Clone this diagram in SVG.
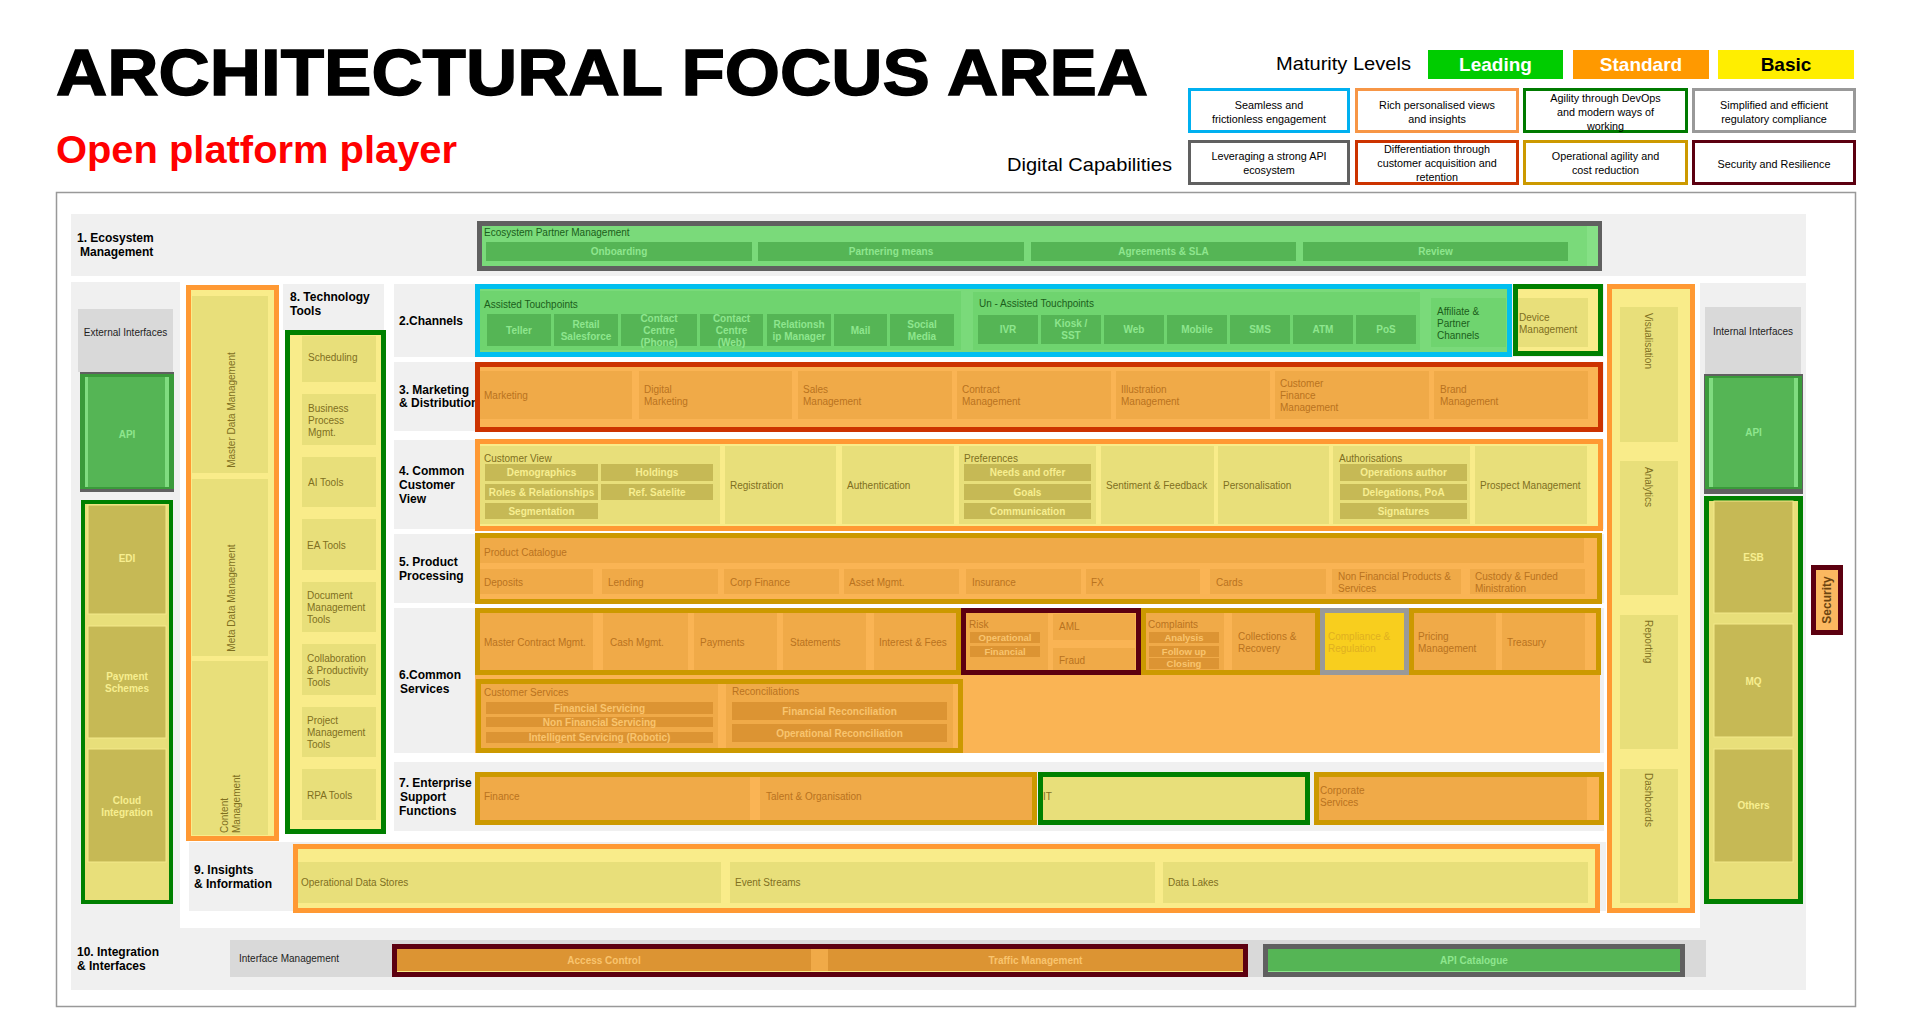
<svg xmlns="http://www.w3.org/2000/svg" width="1911" height="1015" viewBox="0 0 1911 1015">
<style>
text{font-family:"Liberation Sans",Arial,sans-serif}
.bg{fill:#F0F0F0}
.hd{fill:#D9D9D9}
.lb{font-size:12px;font-weight:bold;fill:#000}
.s{font-size:10px}
.c{text-anchor:middle}
.b{font-weight:bold}
.k{fill:#1E1E1E}
.gT{fill:#1B5E1B}
.yT{fill:#7F6F1F}
.oT{fill:#B9731F}
.gB{fill:#55B555}
.gBT{fill:#8EE68E}
.yB{fill:#C6B955}
.yBT{fill:#F7EE90}
.oB{fill:#DC9433}
.oBT{fill:#F9C46E}
.gC{fill:#7ADA7A}
.gP{fill:#6FD46F}
.yC{fill:#F9EC8A}
.yP{fill:#E8DF7A}
.oC{fill:#FAB454}
.oP{fill:#F0AA48}
.bOr{stroke:#FF9933;stroke-width:5}
.bRd{stroke:#CC3300;stroke-width:5}
.bGd{stroke:#CC9900;stroke-width:5}
.bMr{stroke:#5C0010;stroke-width:5}
.bGn{stroke:#008000;stroke-width:5}
.bCy{stroke:#00BFEF;stroke-width:5}
.bDg{stroke:#606060;stroke-width:5}
.bGy{stroke:#999999;stroke-width:5}
.lg{fill:#fff;stroke-width:3}
.lt{font-size:10.8px;fill:#000;text-anchor:middle}
.yBx{fill:#C6B955;stroke:#F3E98A;stroke-width:1}
</style>

<rect width="1911" height="1015" fill="#fff"/>

<!-- heading -->
<g id="title">
  <text x="56" y="95" font-size="64" font-weight="bold" fill="#000" stroke="#000" stroke-width="1.4" textLength="1092" lengthAdjust="spacingAndGlyphs">ARCHITECTURAL FOCUS AREA</text>
  <text x="56" y="163" font-size="39" font-weight="bold" fill="#FF0000" textLength="401" lengthAdjust="spacingAndGlyphs">Open platform player</text>
</g>

<!-- maturity legend -->
<g id="maturity-legend">
  <text x="1276" y="70" font-size="19" fill="#000" textLength="135" lengthAdjust="spacingAndGlyphs">Maturity Levels</text>
  <rect x="1428" y="50" width="135" height="29" fill="#00CC00"/>
  <text x="1495.5" y="71" font-size="19" font-weight="bold" fill="#fff" text-anchor="middle">Leading</text>
  <rect x="1573" y="50" width="136" height="29" fill="#FF9900"/>
  <text x="1641" y="71" font-size="19" font-weight="bold" fill="#fff" text-anchor="middle">Standard</text>
  <rect x="1718" y="50" width="136" height="29" fill="#FFEE00"/>
  <text x="1786" y="71" font-size="19" font-weight="bold" fill="#000" text-anchor="middle">Basic</text>
</g>

<!-- digital capabilities legend -->
<g id="capabilities-legend">
  <text x="1007" y="171" font-size="19" fill="#000" textLength="165" lengthAdjust="spacingAndGlyphs">Digital Capabilities</text>
  <rect class="lg" x="1189.5" y="89.5" width="159" height="42" stroke="#00B0F0"/>
  <text class="lt" x="1269" y="109">Seamless and</text>
  <text class="lt" x="1269" y="123">frictionless engagement</text>
  <rect class="lg" x="1356.5" y="89.5" width="161" height="42" stroke="#F79646"/>
  <text class="lt" x="1437" y="109">Rich personalised views</text>
  <text class="lt" x="1437" y="123">and insights</text>
  <rect class="lg" x="1524.5" y="89.5" width="162" height="42" stroke="#007A00"/>
  <text class="lt" x="1605.5" y="102">Agility through DevOps</text>
  <text class="lt" x="1605.5" y="116">and modern ways of</text>
  <text class="lt" x="1605.5" y="129.5">working</text>
  <rect class="lg" x="1693.5" y="89.5" width="161" height="42" stroke="#999999"/>
  <text class="lt" x="1774" y="109">Simplified and efficient</text>
  <text class="lt" x="1774" y="123">regulatory compliance</text>
  <rect class="lg" x="1189.5" y="141.5" width="159" height="42" stroke="#606060"/>
  <text class="lt" x="1269" y="160">Leveraging a strong API</text>
  <text class="lt" x="1269" y="174">ecosystem</text>
  <rect class="lg" x="1356.5" y="141.5" width="161" height="42" stroke="#CC3300"/>
  <text class="lt" x="1437" y="153">Differentiation through</text>
  <text class="lt" x="1437" y="167">customer acquisition and</text>
  <text class="lt" x="1437" y="180.5">retention</text>
  <rect class="lg" x="1524.5" y="141.5" width="162" height="42" stroke="#CC9900"/>
  <text class="lt" x="1605.5" y="160">Operational agility and</text>
  <text class="lt" x="1605.5" y="174">cost reduction</text>
  <rect class="lg" x="1693.5" y="141.5" width="161" height="42" stroke="#5C0010"/>
  <text class="lt" x="1774" y="168">Security and Resilience</text>
</g>

<!-- outer frame and background bands -->
<g id="frame">
  <rect x="56.5" y="192.5" width="1799" height="814" fill="#fff" stroke="#999" stroke-width="1.5"/>
  <rect class="bg" x="71" y="214" width="1735" height="62"/>
  <rect class="bg" x="71" y="282" width="109" height="708"/>
  <rect class="bg" x="1700" y="283" width="106" height="707"/>
  <rect class="bg" x="71" y="928" width="1735" height="62"/>
  <rect class="bg" x="283" y="284" width="101" height="46"/>
  <rect class="bg" x="394" y="284" width="1210" height="73"/>
  <rect class="bg" x="394" y="362" width="1210" height="69"/>
  <rect class="bg" x="394" y="440" width="1210" height="89"/>
  <rect class="bg" x="394" y="534" width="1210" height="69"/>
  <rect class="bg" x="394" y="608" width="1210" height="145"/>
  <rect class="bg" x="394" y="762" width="1210" height="69"/>
  <rect class="bg" x="189" y="842" width="1417" height="69"/>
</g>

<!-- 1. Ecosystem Management -->
<g id="ecosystem">
  <text class="lb" x="77" y="242">1. Ecosystem</text>
  <text class="lb" x="80" y="256">Management</text>
  <rect class="gC bDg" x="479.5" y="223.5" width="1120" height="45"/>
  <rect x="1587" y="226" width="11" height="40" fill="#86E086"/>
  <text class="s gT" x="484" y="236">Ecosystem Partner Management</text>
  <rect class="gB" x="486" y="242" width="266" height="19"/>
  <rect class="gB" x="758" y="242" width="266" height="19"/>
  <rect class="gB" x="1031" y="242" width="265" height="19"/>
  <rect class="gB" x="1303" y="242" width="265" height="19"/>
  <g class="s b gBT c">
    <text x="619" y="255">Onboarding</text>
    <text x="891" y="255">Partnering means</text>
    <text x="1163.5" y="255">Agreements &amp; SLA</text>
    <text x="1435.5" y="255">Review</text>
  </g>
</g>

<!-- External interfaces column -->
<g id="external-interfaces">
  <rect class="hd" x="78" y="309" width="95" height="63"/>
  <text class="s k c" x="125.5" y="336">External Interfaces</text>
  <rect x="80" y="372" width="94" height="120" fill="#606060"/>
  <rect x="80" y="374" width="94" height="115" fill="#3A9A3A"/>
  <rect class="gB" x="85" y="377" width="84" height="110"/>
  <rect x="85" y="377" width="3" height="110" fill="#80DC80"/>
  <rect x="165" y="377" width="4" height="110" fill="#80DC80"/>
  <text class="s b gBT c" x="127" y="438">API</text>
  <rect class="yP" x="83" y="502" width="88" height="400" stroke="#008000" stroke-width="4"/>
  <rect class="yBx" x="88" y="505" width="78" height="109"/>
  <rect class="yBx" x="88" y="626" width="78" height="112"/>
  <rect class="yBx" x="88" y="749" width="78" height="113"/>
  <g class="s b yBT c">
    <text x="127" y="562">EDI</text>
    <text x="127" y="680">Payment</text>
    <text x="127" y="692">Schemes</text>
    <text x="127" y="804">Cloud</text>
    <text x="127" y="816">Integration</text>
  </g>
</g>

<!-- Data management column -->
<g id="data-management">
  <rect class="yC bOr" x="188.5" y="287.5" width="88" height="551"/>
  <rect class="yP" x="192" y="296" width="76" height="177"/>
  <rect class="yP" x="192" y="479" width="76" height="177"/>
  <rect class="yP" x="192" y="661" width="76" height="174"/>
  <g class="s yT">
    <text class="c" transform="translate(231,410) rotate(-90)" y="3.5">Master Data Management</text>
    <text class="c" transform="translate(231,598) rotate(-90)" y="3.5">Meta Data Management</text>
    <text transform="translate(224,833) rotate(-90)" y="3.5">Content</text>
    <text transform="translate(236.5,833) rotate(-90)" y="3.5">Management</text>
  </g>
</g>

<!-- 8. Technology Tools -->
<g id="technology-tools">
  <text class="lb" x="290" y="301">8. Technology</text>
  <text class="lb" x="290" y="315">Tools</text>
  <rect class="yC bGn" x="287.5" y="332.5" width="96" height="499"/>
  <rect class="yP" x="302" y="336" width="74" height="46"/>
  <rect class="yP" x="302" y="394" width="74" height="51"/>
  <rect class="yP" x="302" y="457" width="74" height="50"/>
  <rect class="yP" x="302" y="519" width="74" height="51"/>
  <rect class="yP" x="302" y="582" width="74" height="50"/>
  <rect class="yP" x="302" y="644" width="74" height="51"/>
  <rect class="yP" x="302" y="707" width="74" height="50"/>
  <rect class="yP" x="302" y="769" width="74" height="51"/>
  <g class="s yT">
    <text x="308" y="361">Scheduling</text>
    <text x="308" y="412">Business</text>
    <text x="308" y="424">Process</text>
    <text x="308" y="436">Mgmt.</text>
    <text x="308" y="486">AI Tools</text>
    <text x="307" y="549">EA Tools</text>
    <text x="307" y="599">Document</text>
    <text x="307" y="611">Management</text>
    <text x="307" y="623">Tools</text>
    <text x="307" y="662">Collaboration</text>
    <text x="307" y="674">&amp; Productivity</text>
    <text x="307" y="686">Tools</text>
    <text x="307" y="724">Project</text>
    <text x="307" y="736">Management</text>
    <text x="307" y="748">Tools</text>
    <text x="307" y="799">RPA Tools</text>
  </g>
</g>

<!-- 2. Channels -->
<g id="channels">
  <text class="lb" x="399" y="325">2.Channels</text>
  <rect class="gC bCy" x="477.5" y="286.5" width="1032" height="68"/>
  <rect class="gP" x="480" y="291" width="481" height="59"/>
  <rect class="gP" x="973" y="292" width="447" height="58"/>
  <rect class="gP" x="1431" y="298" width="75" height="49"/>
  <text class="s gT" x="484" y="308">Assisted Touchpoints</text>
  <text class="s gT" x="979" y="307">Un - Assisted Touchpoints</text>
  <g class="gB">
    <rect x="487" y="314" width="64" height="32"/>
    <rect x="554" y="314" width="64" height="32"/>
    <rect x="621" y="314" width="76" height="32"/>
    <rect x="700" y="314" width="63" height="32"/>
    <rect x="767" y="314" width="64" height="32"/>
    <rect x="834" y="314" width="53" height="32"/>
    <rect x="890" y="314" width="64" height="32"/>
    <rect x="978" y="315" width="60" height="29"/>
    <rect x="1041" y="315" width="60" height="29"/>
    <rect x="1104" y="315" width="60" height="29"/>
    <rect x="1167" y="315" width="60" height="29"/>
    <rect x="1230" y="315" width="60" height="29"/>
    <rect x="1293" y="315" width="60" height="29"/>
    <rect x="1356" y="315" width="60" height="29"/>
  </g>
  <g class="s b gBT c">
    <text x="519" y="334">Teller</text>
    <text x="586" y="328">Retail</text>
    <text x="586" y="340">Salesforce</text>
    <text x="659" y="322">Contact</text>
    <text x="659" y="334">Centre</text>
    <text x="659" y="346">(Phone)</text>
    <text x="731.5" y="322">Contact</text>
    <text x="731.5" y="334">Centre</text>
    <text x="731.5" y="346">(Web)</text>
    <text x="799" y="328">Relationsh</text>
    <text x="799" y="340">ip Manager</text>
    <text x="860.5" y="334">Mail</text>
    <text x="922" y="328">Social</text>
    <text x="922" y="340">Media</text>
    <text x="1008" y="333">IVR</text>
    <text x="1071" y="327">Kiosk /</text>
    <text x="1071" y="339">SST</text>
    <text x="1134" y="333">Web</text>
    <text x="1197" y="333">Mobile</text>
    <text x="1260" y="333">SMS</text>
    <text x="1323" y="333">ATM</text>
    <text x="1386" y="333">PoS</text>
  </g>
  <g class="s gT">
    <text x="1437" y="315">Affiliate &amp;</text>
    <text x="1437" y="327">Partner</text>
    <text x="1437" y="339">Channels</text>
  </g>
</g>

<g id="device-management">
  <rect class="yC bGn" x="1515.5" y="286.5" width="85" height="67"/>
  <rect class="yP" x="1518" y="298" width="70" height="49"/>
  <text class="s yT" x="1519" y="321">Device</text>
  <text class="s yT" x="1519" y="333">Management</text>
</g>

<!-- 3. Marketing & Distribution -->
<g id="marketing">
  <text class="lb" x="399" y="394">3. Marketing</text>
  <text class="lb" x="399" y="407">&amp; Distribution</text>
  <rect class="oC bRd" x="477.5" y="364.5" width="1123" height="65"/>
  <g class="oP">
    <rect x="480" y="371" width="152" height="48"/>
    <rect x="639" y="371" width="153" height="48"/>
    <rect x="798" y="371" width="154" height="48"/>
    <rect x="957" y="371" width="154" height="48"/>
    <rect x="1116" y="371" width="154" height="48"/>
    <rect x="1275" y="371" width="154" height="48"/>
    <rect x="1434" y="371" width="154" height="48"/>
  </g>
  <g class="s oT">
    <text x="484" y="399">Marketing</text>
    <text x="644" y="393">Digital</text>
    <text x="644" y="405">Marketing</text>
    <text x="803" y="393">Sales</text>
    <text x="803" y="405">Management</text>
    <text x="962" y="393">Contract</text>
    <text x="962" y="405">Management</text>
    <text x="1121" y="393">Illustration</text>
    <text x="1121" y="405">Management</text>
    <text x="1280" y="387">Customer</text>
    <text x="1280" y="399">Finance</text>
    <text x="1280" y="411">Management</text>
    <text x="1440" y="393">Brand</text>
    <text x="1440" y="405">Management</text>
  </g>
</g>

<!-- 4. Common Customer View -->
<g id="customer-view">
  <text class="lb" x="399" y="475">4. Common</text>
  <text class="lb" x="399" y="489">Customer</text>
  <text class="lb" x="399" y="503">View</text>
  <rect class="yC bOr" x="477.5" y="441.5" width="1123" height="87"/>
  <g class="yP">
    <rect x="480" y="446" width="240" height="78"/>
    <rect x="725" y="446" width="111" height="78"/>
    <rect x="842" y="446" width="112" height="78"/>
    <rect x="959" y="446" width="137" height="78"/>
    <rect x="1101" y="446" width="113" height="78"/>
    <rect x="1218" y="446" width="111" height="78"/>
    <rect x="1333" y="446" width="137" height="78"/>
    <rect x="1475" y="446" width="112" height="78"/>
  </g>
  <g class="yB">
    <rect x="485" y="464" width="113" height="17"/>
    <rect x="601" y="464" width="112" height="17"/>
    <rect x="485" y="484" width="113" height="16"/>
    <rect x="601" y="484" width="112" height="16"/>
    <rect x="485" y="503" width="113" height="16"/>
    <rect x="964" y="464" width="127" height="17"/>
    <rect x="964" y="484" width="127" height="16"/>
    <rect x="964" y="503" width="127" height="16"/>
    <rect x="1340" y="464" width="127" height="17"/>
    <rect x="1340" y="484" width="127" height="16"/>
    <rect x="1340" y="503" width="127" height="16"/>
  </g>
  <g class="s yT">
    <text x="484" y="462">Customer View</text>
    <text x="730" y="489">Registration</text>
    <text x="847" y="489">Authentication</text>
    <text x="964" y="462">Preferences</text>
    <text x="1106" y="489">Sentiment &amp; Feedback</text>
    <text x="1223" y="489">Personalisation</text>
    <text x="1339" y="462">Authorisations</text>
    <text x="1480" y="489">Prospect Management</text>
  </g>
  <g class="s b yBT c">
    <text x="541.5" y="476">Demographics</text>
    <text x="657" y="476">Holdings</text>
    <text x="541.5" y="495.5">Roles &amp; Relationships</text>
    <text x="657" y="495.5">Ref. Satelite</text>
    <text x="541.5" y="514.5">Segmentation</text>
    <text x="1027.5" y="476">Needs and offer</text>
    <text x="1027.5" y="495.5">Goals</text>
    <text x="1027.5" y="514.5">Communication</text>
    <text x="1403.5" y="476">Operations author</text>
    <text x="1403.5" y="495.5">Delegations, PoA</text>
    <text x="1403.5" y="514.5">Signatures</text>
  </g>
</g>

<!-- 5. Product Processing -->
<g id="product-processing">
  <text class="lb" x="399" y="566">5. Product</text>
  <text class="lb" x="399" y="580">Processing</text>
  <rect class="oC bGd" x="477.5" y="535.5" width="1122" height="66"/>
  <rect class="oP" x="480" y="538" width="1104" height="25"/>
  <g class="oP">
    <rect x="480" y="569" width="113" height="25"/>
    <rect x="602" y="569" width="116" height="25"/>
    <rect x="724" y="569" width="115" height="25"/>
    <rect x="844" y="569" width="115" height="25"/>
    <rect x="966" y="569" width="115" height="25"/>
    <rect x="1086" y="569" width="114" height="25"/>
    <rect x="1210" y="569" width="116" height="25"/>
    <rect x="1332" y="569" width="129" height="25"/>
    <rect x="1470" y="569" width="115" height="25"/>
  </g>
  <g class="s oT">
    <text x="484" y="556">Product Catalogue</text>
    <text x="484" y="586">Deposits</text>
    <text x="608" y="586">Lending</text>
    <text x="730" y="586">Corp Finance</text>
    <text x="849" y="586">Asset Mgmt.</text>
    <text x="972" y="586">Insurance</text>
    <text x="1091" y="586">FX</text>
    <text x="1216" y="586">Cards</text>
    <text x="1338" y="580">Non Financial Products &amp;</text>
    <text x="1338" y="592">Services</text>
    <text x="1475" y="580">Custody &amp; Funded</text>
    <text x="1475" y="592">Ministration</text>
  </g>
</g>

<!-- 6. Common Services -->
<g id="common-services">
  <text class="lb" x="399" y="679">6.Common</text>
  <text class="lb" x="400" y="693">Services</text>
  <rect class="oC" x="475" y="608" width="1125" height="145"/>
  <rect class="oC bGd" x="477.5" y="610.5" width="481" height="62"/>
  <g class="oP">
    <rect x="480" y="613" width="113" height="57"/>
    <rect x="603" y="613" width="85" height="57"/>
    <rect x="694" y="613" width="83" height="57"/>
    <rect x="783" y="613" width="83" height="57"/>
    <rect x="874" y="613" width="82" height="57"/>
  </g>
  <g class="s oT">
    <text x="484" y="646">Master Contract Mgmt.</text>
    <text x="610" y="646">Cash Mgmt.</text>
    <text x="700" y="646">Payments</text>
    <text x="790" y="646">Statements</text>
    <text x="879" y="646">Interest &amp; Fees</text>
  </g>
</g>

<g id="risk">
  <rect class="oC bMr" x="963.5" y="610.5" width="175" height="62"/>
  <rect class="oP" x="966" y="613" width="82" height="57"/>
  <rect class="oP" x="1053" y="614" width="82" height="26"/>
  <rect class="oP" x="1053" y="648" width="82" height="22"/>
  <rect class="oB" x="970" y="632" width="70" height="11"/>
  <rect class="oB" x="970" y="646" width="70" height="11"/>
  <g class="s oT">
    <text x="969" y="627.5">Risk</text>
    <text x="1059" y="630">AML</text>
    <text x="1059" y="664">Fraud</text>
  </g>
  <g class="b oBT c" font-size="9.5">
    <text x="1005" y="641">Operational</text>
    <text x="1005" y="655">Financial</text>
  </g>
</g>

<g id="complaints-collections">
  <rect class="oC bGd" x="1143.5" y="610.5" width="174" height="62"/>
  <rect class="oP" x="1146" y="613" width="78" height="57"/>
  <rect class="oP" x="1232" y="613" width="83" height="57"/>
  <rect class="oB" x="1149" y="632" width="70" height="11"/>
  <rect class="oB" x="1149" y="646" width="70" height="11"/>
  <rect class="oB" x="1149" y="658" width="70" height="11"/>
  <g class="s oT">
    <text x="1148" y="627.5">Complaints</text>
    <text x="1238" y="640">Collections &amp;</text>
    <text x="1238" y="652">Recovery</text>
  </g>
  <g class="b oBT c" font-size="9.5">
    <text x="1184" y="641">Analysis</text>
    <text x="1184" y="655">Follow up</text>
    <text x="1184" y="667">Closing</text>
  </g>
</g>

<g id="compliance">
  <rect x="1322.5" y="610.5" width="84" height="62" fill="#F8CE1E" stroke="#999999" stroke-width="5"/>
  <text class="s" x="1328" y="640" fill="#E0B020">Compliance &amp;</text>
  <text class="s" x="1328" y="652" fill="#E0B020">Regulation</text>
</g>

<g id="pricing-treasury">
  <rect class="oC bGd" x="1411.5" y="610.5" width="187" height="62"/>
  <rect class="oP" x="1414" y="613" width="82" height="57"/>
  <rect class="oP" x="1502" y="613" width="83" height="57"/>
  <text class="s oT" x="1418" y="640">Pricing</text>
  <text class="s oT" x="1418" y="652">Management</text>
  <text class="s oT" x="1507" y="646">Treasury</text>
</g>

<g id="customer-services">
  <rect class="oC bGd" x="478.5" y="681.5" width="482" height="69"/>
  <rect class="oP" x="481" y="684" width="237" height="64"/>
  <rect class="oP" x="726" y="684" width="227" height="64"/>
  <rect class="oB" x="486" y="702" width="227" height="12"/>
  <rect class="oB" x="486" y="717" width="227" height="10"/>
  <rect class="oB" x="486" y="732" width="227" height="11"/>
  <rect class="oB" x="732" y="702" width="215" height="18"/>
  <rect class="oB" x="732" y="724" width="215" height="18"/>
  <text class="s oT" x="484" y="696">Customer Services</text>
  <text class="s oT" x="732" y="695">Reconciliations</text>
  <g class="s b oBT c">
    <text x="599.5" y="711.5">Financial Servicing</text>
    <text x="599.5" y="725.5">Non Financial Servicing</text>
    <text x="599.5" y="741">Intelligent Servicing (Robotic)</text>
    <text x="839.5" y="714.5">Financial Reconciliation</text>
    <text x="839.5" y="736.5">Operational Reconciliation</text>
  </g>
</g>

<!-- 7. Enterprise Support Functions -->
<g id="enterprise-support">
  <text class="lb" x="399" y="787">7. Enterprise</text>
  <text class="lb" x="400" y="801">Support</text>
  <text class="lb" x="399" y="815">Functions</text>
  <rect class="oC bGd" x="477.5" y="774.5" width="557" height="48"/>
  <rect class="oP" x="480" y="777" width="270" height="43"/>
  <rect class="oP" x="760" y="777" width="272" height="43"/>
  <text class="s oT" x="484" y="800">Finance</text>
  <text class="s oT" x="766" y="800">Talent &amp; Organisation</text>
</g>

<g id="it">
  <rect class="yP bGn" x="1040.5" y="774.5" width="267" height="48"/>
  <text class="s yT" x="1043" y="800">IT</text>
</g>

<g id="corporate-services">
  <rect class="oC bGd" x="1316.5" y="774.5" width="285" height="48"/>
  <rect class="oP" x="1319" y="777" width="268" height="43"/>
  <text class="s oT" x="1320" y="794">Corporate</text>
  <text class="s oT" x="1320" y="806">Services</text>
</g>

<!-- 9. Insights & Information -->
<g id="insights">
  <text class="lb" x="194" y="874">9. Insights</text>
  <text class="lb" x="194" y="888">&amp; Information</text>
  <rect class="yC bOr" x="295.5" y="846.5" width="1302" height="64"/>
  <rect class="yP" x="298" y="862" width="423" height="41"/>
  <rect class="yP" x="730" y="862" width="425" height="41"/>
  <rect class="yP" x="1163" y="862" width="425" height="41"/>
  <text class="s yT" x="301" y="886">Operational Data Stores</text>
  <text class="s yT" x="735" y="886">Event Streams</text>
  <text class="s yT" x="1168" y="886">Data Lakes</text>
</g>

<!-- Insight outputs column -->
<g id="insight-outputs">
  <rect class="yC bOr" x="1609.5" y="286.5" width="83" height="624"/>
  <rect class="yP" x="1620" y="307" width="58" height="135"/>
  <rect class="yP" x="1620" y="461" width="58" height="134"/>
  <rect class="yP" x="1620" y="615" width="58" height="134"/>
  <rect class="yP" x="1620" y="769" width="58" height="134"/>
  <g class="s yT">
    <text transform="translate(1648,313) rotate(90)" y="3.5">Visualisation</text>
    <text transform="translate(1648,467) rotate(90)" y="3.5">Analytics</text>
    <text transform="translate(1648,620) rotate(90)" y="3.5">Reporting</text>
    <text transform="translate(1648,773) rotate(90)" y="3.5">Dashboards</text>
  </g>
</g>

<!-- Internal interfaces column -->
<g id="internal-interfaces">
  <rect class="hd" x="1705" y="307" width="96" height="67"/>
  <text class="s k c" x="1753" y="335">Internal Interfaces</text>
  <rect x="1704" y="374" width="99" height="120" fill="#606060"/>
  <rect x="1705" y="376" width="97" height="113" fill="#3A9A3A"/>
  <rect class="gB" x="1709" y="378" width="89" height="109"/>
  <rect x="1709" y="378" width="4" height="109" fill="#80DC80"/>
  <rect x="1794" y="378" width="4" height="109" fill="#80DC80"/>
  <text class="s b gBT c" x="1753.5" y="436">API</text>
  <rect class="yP bGn" x="1706.5" y="498.5" width="94" height="403"/>
  <rect class="yBx" x="1714" y="501" width="79" height="112"/>
  <rect class="yBx" x="1714" y="624" width="79" height="113"/>
  <rect class="yBx" x="1714" y="749" width="79" height="113"/>
  <g class="s b yBT c">
    <text x="1753.5" y="561">ESB</text>
    <text x="1753.5" y="685">MQ</text>
    <text x="1753.5" y="809">Others</text>
  </g>
</g>

<g id="security">
  <rect x="1813.5" y="567.5" width="27" height="65" fill="#FBB860" stroke="#5C0010" stroke-width="5"/>
  <text class="c" transform="translate(1827,600) rotate(-90)" y="4" font-size="12" font-weight="bold" fill="#6B4410">Security</text>
</g>

<!-- 10. Integration & Interfaces -->
<g id="integration">
  <text class="lb" x="77" y="956">10. Integration</text>
  <text class="lb" x="77" y="970">&amp; Interfaces</text>
  <rect class="hd" x="230" y="940" width="1476" height="37"/>
  <text class="s k" x="239" y="962">Interface Management</text>
  <rect class="oP bMr" x="394.5" y="946.5" width="851" height="28"/>
  <rect class="oB" x="397" y="949" width="414" height="22"/>
  <rect class="oB" x="828" y="949" width="415" height="22"/>
  <rect x="397" y="971" width="846" height="1" fill="#F9EC8A"/>
  <text class="s b oBT c" x="604" y="964">Access Control</text>
  <text class="s b oBT c" x="1035.5" y="964">Traffic Management</text>
  <rect x="1265.5" y="946.5" width="417" height="28" fill="#55B555" stroke="#606060" stroke-width="5"/>
  <rect x="1268" y="971" width="412" height="1" fill="#8EE68E"/>
  <text class="s b gBT c" x="1474" y="964">API Catalogue</text>
</g>
</svg>
